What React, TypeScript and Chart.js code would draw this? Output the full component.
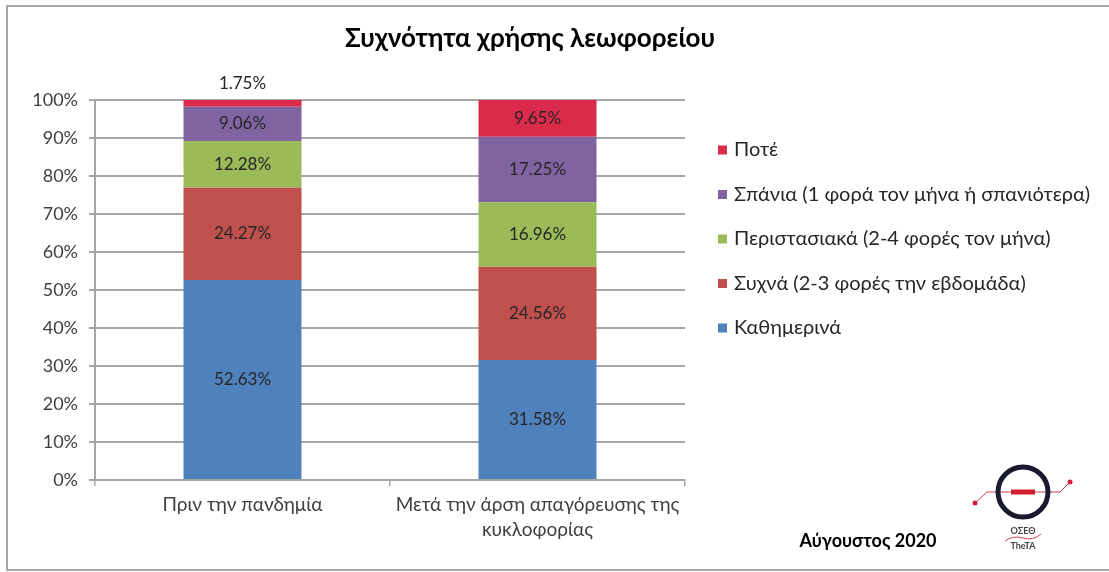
import { useEffect, useRef } from "react";
import { Chart, registerables } from "chart.js";

Chart.register(...registerables);

const chartTitle = "Συχνότητα χρήσης λεωφορείου";
const footNote = "Αύγουστος 2020";
const categories = [["Πριν την πανδημία"], ["Μετά την άρση απαγόρευσης της", "κυκλοφορίας"]];
const seriesNames = [
  "Καθημερινά",
  "Συχνά (2-3 φορές την εβδομάδα)",
  "Περιστασιακά (2-4 φορές τον μήνα)",
  "Σπάνια (1 φορά τον μήνα ή σπανιότερα)",
  "Ποτέ",
];
const daily = [52.63, 31.58];
const often = [24.27, 24.56];
const occasionally = [12.28, 16.96];
const rarely = [9.06, 17.25];
const never = [1.75, 9.65];
const seriesColors = ["#4F81BD", "#C0504D", "#9BBB59", "#8064A2", "#DC2A4B"];
const yMin = 0;
const yMax = 100;
const yStep = 10;

const FONT = "Lato, 'Noto Sans', sans-serif";

const decorPlugin = {
  id: "decor",
  beforeDraw(chart: any) {
    const ctx = chart.ctx;
    ctx.save();
    ctx.fillStyle = "#ffffff";
    ctx.fillRect(0, 0, chart.width, chart.height);
    ctx.restore();
  },
  afterDatasetsDraw(chart: any) {
    const ctx = chart.ctx;
    ctx.save();
    ctx.font = `17px ${FONT}`;
    ctx.fillStyle = "#262626";
    ctx.textAlign = "center";
    ctx.textBaseline = "middle";
    chart.data.datasets.forEach((ds: any, i: number) => {
      const meta = chart.getDatasetMeta(i);
      meta.data.forEach((el: any, j: number) => {
        const v = ds.data[j];
        const h = Math.abs(el.base - el.y);
        const txt = v.toFixed(2) + "%";
        if (h < 16) {
          ctx.fillText(txt, el.x, el.y - 17);
        } else {
          ctx.fillText(txt, el.x, (el.y + el.base) / 2);
        }
      });
    });
    ctx.restore();
  },
  afterDraw(chart: any) {
    const ctx = chart.ctx;
    const ca = chart.chartArea;
    ctx.save();
    // outer frame
    ctx.strokeStyle = "#A6A6A6";
    ctx.lineWidth = 2;
    ctx.strokeRect(7, 6, chart.width + 20, chart.height - 8);

    // title
    ctx.fillStyle = "#000000";
    ctx.font = `bold 26px ${FONT}`;
    ctx.textAlign = "center";
    ctx.textBaseline = "middle";
    ctx.fillText(chartTitle, 530, 39);

    // legend (reverse order)
    ctx.font = `20px ${FONT}`;
    ctx.textAlign = "left";
    const n = chart.data.datasets.length;
    for (let k = 0; k < n; k++) {
      const i = n - 1 - k;
      const ds = chart.data.datasets[i];
      const y = 150 + k * 44.5;
      ctx.fillStyle = ds.backgroundColor;
      ctx.fillRect(ca.right + 33, y - 4.5, 9, 9);
      ctx.fillStyle = "#262626";
      ctx.fillText(ds.label, ca.right + 49, y);
    }

    // footnote
    ctx.fillStyle = "#000000";
    ctx.font = `bold 18px ${FONT}`;
    ctx.textAlign = "center";
    ctx.fillText(footNote, 868, 541);

    // logo
    const cx = 1023, cy = 492;
    ctx.strokeStyle = "#D04050";
    ctx.lineWidth = 1;
    ctx.beginPath();
    ctx.moveTo(975, 503);
    ctx.lineTo(987, 492);
    ctx.lineTo(1060, 492);
    ctx.lineTo(1070, 482);
    ctx.stroke();
    ctx.fillStyle = "#D02040";
    ctx.beginPath(); ctx.arc(975, 503, 2.5, 0, Math.PI * 2); ctx.fill();
    ctx.beginPath(); ctx.arc(1070, 482, 2.5, 0, Math.PI * 2); ctx.fill();
    ctx.strokeStyle = "#1A1A2E";
    ctx.lineWidth = 5;
    ctx.beginPath(); ctx.arc(cx, cy, 25, 0, Math.PI * 2); ctx.stroke();
    ctx.fillStyle = "#D02030";
    ctx.fillRect(cx - 12, cy - 2.5, 24, 5);
    ctx.fillStyle = "#444444";
    ctx.font = `bold 9px ${FONT}`;
    ctx.textAlign = "center";
    ctx.fillText("ΟΣΕΘ", cx, 531);
    ctx.strokeStyle = "#D04050";
    ctx.lineWidth = 1;
    ctx.beginPath();
    ctx.moveTo(cx - 18, 541);
    ctx.quadraticCurveTo(cx - 10, 535, cx, 538);
    ctx.quadraticCurveTo(cx + 10, 541, cx + 18, 534);
    ctx.stroke();
    ctx.fillStyle = "#444444";
    ctx.fillText("TheTA", cx, 546);
    ctx.restore();
  },
};

export default function App() {
  const ref = useRef<HTMLCanvasElement | null>(null);
  useEffect(() => {
    document.body.style.margin = "0";
    const names = seriesNames;
    const values = [daily, often, occasionally, rarely, never];
    const chart = new Chart(ref.current as HTMLCanvasElement, {
      type: "bar",
      data: {
        labels: categories as any,
        datasets: values.map((d, i) => ({
          label: names[i],
          data: d,
          backgroundColor: seriesColors[i],
          borderWidth: 0,
          barPercentage: 0.4,
          categoryPercentage: 1,
        })),
      },
      options: {
        responsive: false,
        animation: false,
        devicePixelRatio: 1,
        layout: { padding: { left: 0, top: 100, right: 424, bottom: 0 } },
        plugins: {
          legend: { display: false },
          title: { display: false },
          tooltip: { enabled: false },
        },
        scales: {
          x: {
            stacked: true,
            afterFit: (s: any) => { s.height = 92; },
            grid: {
              drawOnChartArea: false,
              drawTicks: true,
              tickLength: 6,
              color: "#A6A6A6",
              lineWidth: 1.5,
            },
            border: { color: "#A6A6A6", width: 2 },
            ticks: {
              color: "#404040",
              font: { family: FONT, size: 19, lineHeight: 1.3 },
              padding: 7,
              maxRotation: 0,
              autoSkip: false,
            },
          },
          y: {
            stacked: true,
            min: yMin,
            max: yMax,
            afterFit: (s: any) => { s.width = 95; },
            grid: {
              color: "#A6A6A6",
              lineWidth: 2,
              tickLength: 6,
            },
            border: { color: "#A6A6A6", width: 2 },
            ticks: {
              stepSize: yStep,
              color: "#404040",
              font: { family: FONT, size: 18 },
              padding: 11,
              callback: (v: any) => v + "%",
            },
          },
        },
      },
      plugins: [decorPlugin],
    });
    return () => chart.destroy();
  }, []);
  return (
    <div style={{ position: "absolute", left: 0, top: 0 }}>
      <canvas ref={ref} width={1109} height={572} style={{ display: "block" }} />
    </div>
  );
}
